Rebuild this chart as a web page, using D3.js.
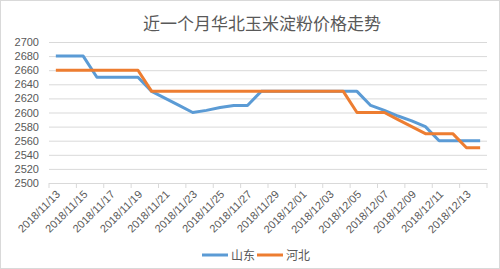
<!DOCTYPE html>
<html><head><meta charset="utf-8">
<script src="https://cdn.jsdelivr.net/npm/d3@7"></script>
<style>body{margin:0;background:#fff}svg{display:block}</style>
</head><body>
<svg id="c" width="500" height="269"></svg>
<script>
const dates = ["2018/11/13","2018/11/14","2018/11/15","2018/11/16","2018/11/17","2018/11/18","2018/11/19","2018/11/20","2018/11/21","2018/11/22","2018/11/23","2018/11/24","2018/11/25","2018/11/26","2018/11/27","2018/11/28","2018/11/29","2018/11/30","2018/12/01","2018/12/02","2018/12/03","2018/12/04","2018/12/05","2018/12/06","2018/12/07","2018/12/08","2018/12/09","2018/12/10","2018/12/11","2018/12/12","2018/12/13","2018/12/14"];
const shandong = [2680,2680,2680,2650,2650,2650,2650,2630,2620,2610,2600,2603,2607,2610,2610,2630,2630,2630,2630,2630,2630,2630,2630,2610,2603,2595,2588,2580,2560,2560,2560,2560];
const hebei = [2660,2660,2660,2660,2660,2660,2660,2630,2630,2630,2630,2630,2630,2630,2630,2630,2630,2630,2630,2630,2630,2630,2600,2600,2600,2590,2580,2570,2570,2570,2550,2550];
const yTicks = [2500,2520,2540,2560,2580,2600,2620,2640,2660,2680,2700];
const seriesNames = ["山东","河北"];
const colors = ["#5b9bd5","#ed7d31"];
const title = "近一个月华北玉米淀粉价格走势";

const svg = d3.select("#c");
const font = "'Noto Sans CJK SC','Noto Sans',sans-serif";
const numFont = "'Liberation Sans',Arial,sans-serif";
const L = 49, R = 487, T = 42, B = 183;
svg.append("rect").attr("x",0.5).attr("y",0.5).attr("width",499).attr("height",268)
  .attr("fill","#fff").attr("stroke","#d9d9d9");

const x = d3.scaleBand().domain(dates).range([L,R]).padding(0);
const y = d3.scaleLinear().domain([2500,2700]).range([B,T]);

// grid
const yAxis = d3.axisLeft(y).tickValues(yTicks).tickSize(-(R-L)).tickFormat(d3.format("d"));
const gy = svg.append("g").attr("transform",`translate(${L},0)`).call(yAxis);
gy.select(".domain").remove();
gy.selectAll(".tick line").attr("stroke","#d9d9d9").attr("stroke-width",1);
gy.selectAll(".tick text").attr("x",-10).attr("fill","#595959")
  .style("font-family",numFont).style("font-size","11px");

// x axis
const labelDates = dates.filter((d,i)=>i%2===0);
const xAxis = d3.axisBottom(x).tickValues(labelDates).tickSize(0);
const gx = svg.append("g").attr("transform",`translate(0,${B})`).call(xAxis);
gx.select(".domain").attr("stroke","#d9d9d9");
gx.selectAll(".tick text")
  .attr("fill","#595959").style("font-family",numFont).style("font-size","11px")
  .attr("text-anchor","end").attr("dy",0).attr("y",0)
  .attr("transform","translate(5,12) rotate(-45)");
// tick marks at category boundaries
const tickPos = labelDates.map(d=>x(d)).concat([R]);
svg.append("g").selectAll("line").data(tickPos).join("line")
  .attr("x1",d=>d).attr("x2",d=>d).attr("y1",B).attr("y2",B+5)
  .attr("stroke","#d9d9d9");

// lines
const line = d3.line().x((d,i)=>x(dates[i])+x.bandwidth()/2).y(d=>y(d));
[shandong,hebei].forEach((s,k)=>{
  svg.append("path").datum(s).attr("d",line).attr("fill","none")
    .attr("stroke",colors[k]).attr("stroke-width",3).attr("stroke-linejoin","round");
});

// title
svg.append("text").attr("x",262).attr("y",30).attr("text-anchor","middle")
  .attr("fill","#595959").style("font-family",font).style("font-size","17px").text(title);

// legend
const lg = svg.append("g");
const lx = [202,257];
seriesNames.forEach((n,k)=>{
  lg.append("line").attr("x1",lx[k]).attr("x2",lx[k]+26).attr("y1",255).attr("y2",255)
    .attr("stroke",colors[k]).attr("stroke-width",3);
  lg.append("text").attr("x",lx[k]+29).attr("y",259.5).attr("fill","#595959")
    .style("font-family",font).style("font-size","12px").text(n);
});
</script>
</body></html>
